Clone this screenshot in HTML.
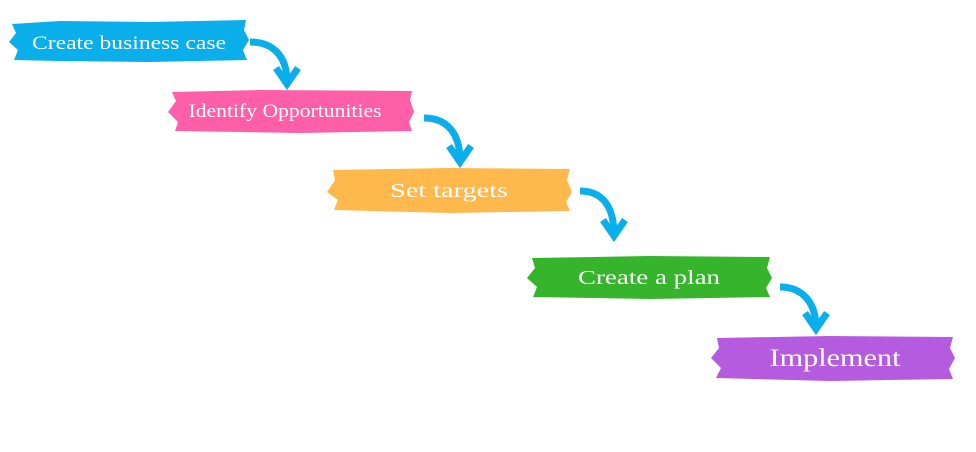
<!DOCTYPE html>
<html><head><style>
html,body{margin:0;padding:0;background:#fff;}
svg{display:block}
text{font-family:"Liberation Serif",serif;fill:#fff;text-anchor:middle}
</style></head><body>
<svg width="976" height="452" viewBox="0 0 976 452">
<g>
<path d="M12,24 L60,21 L150,22 L246,20 L244,30 L249,40 L243,50 L247,60 L150,62 L60,61 L14,60 L18,50 L9,42 L16,33 Z" fill="#0aaeea"/>
<path d="M172,92 L260,90 L412,91 L410,100 L414,112 L409,122 L412,131 L300,133 L175,131 L178,122 L168,112 L176,101 Z" fill="#ff5ea9"/>
<path d="M333,170 L450,168 L570,169 L567,180 L572,192 L566,202 L570,211 L450,213 L334,210 L338,200 L327,192 L335,180 Z" fill="#ffb84c"/>
<path d="M532,258 L650,256 L770,257 L767,268 L772,278 L766,288 L770,297 L650,299 L533,297 L537,287 L527,278 L535,268 Z" fill="#36b52c"/>
<path d="M717,338 L830,336 L953,337 L950,348 L955,358 L949,369 L953,379 L830,381 L716,378 L721,368 L711,358 L719,348 Z" fill="#b55be0"/>
</g>
<text x="129" y="49" font-size="19" textLength="194" lengthAdjust="spacingAndGlyphs">Create business case</text>
<text x="285" y="117" font-size="19" textLength="193" lengthAdjust="spacingAndGlyphs">Identify Opportunities</text>
<text x="449" y="197" font-size="20" textLength="118" lengthAdjust="spacingAndGlyphs">Set targets</text>
<text x="649" y="284" font-size="20" textLength="142" lengthAdjust="spacingAndGlyphs">Create a plan</text>
<text x="835" y="366" font-size="25" textLength="131" lengthAdjust="spacingAndGlyphs">Implement</text>
<g fill="none" stroke="#0aaeea" stroke-width="7" stroke-linecap="butt">
<path d="M250,42 C272,42 287,55 287,82"/>
<path d="M276,68 L287,84 L298,68"/>
<path d="M424,118 C446,118 460,132 460,161"/>
<path d="M449,146 L460,162 L471,146"/>
<path d="M580,191 C602,191 614,206 614,235"/>
<path d="M603,220 L614,236 L625,220"/>
<path d="M780,287 C802,287 816,302 816,328"/>
<path d="M805,313 L816,329 L827,313"/>
</g>
</svg>
</body></html>
